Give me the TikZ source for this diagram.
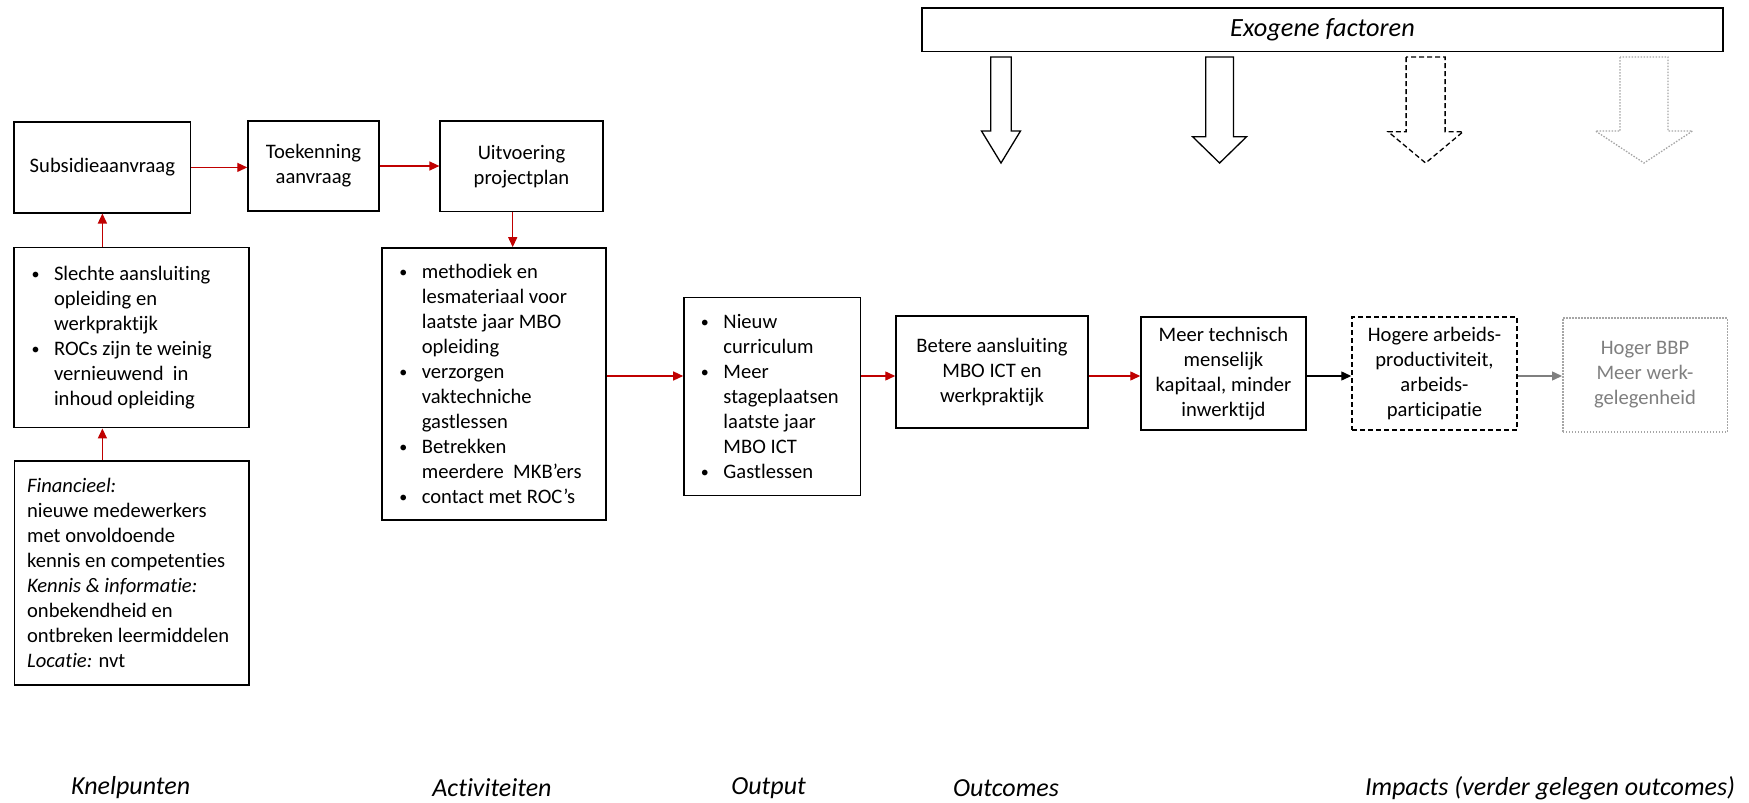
\documentclass[tikz,border=0pt]{standalone}
\usepackage{fontspec}
\setmainfont{Carlito}[Ligatures={TeX,NoCommon}]
\usepackage{tikz}
\usetikzlibrary{arrows.meta,positioning,calc}
\definecolor{FlowRed}{HTML}{C00000}
\definecolor{ImpactGray}{HTML}{7F7F7F}
\definecolor{DotGray}{HTML}{A6A6A6}
\newcommand{\bitem}{\makebox[22.5pt][l]{\raisebox{1pt}{\fontsize{16}{16}\selectfont\textbullet}}}
\newcommand{\bcont}{\hspace*{22.5pt}}

\begin{document}
\begin{tikzpicture}[
  x=1pt,
  y=-1pt,
  font=\fontsize{20.6}{25}\selectfont,
  box/.style={draw, line width=1.5pt, align=flush center, inner sep=0pt},
  listbox/.style={draw, line width=1.5pt, align=flush left, inner ysep=0pt},
  redarrow/.style={-{Triangle[length=10pt,width=9pt]}, line width=1.4pt, FlowRed},
  blackarrow/.style={-{Triangle[length=10pt,width=9pt]}, line width=1.4pt, black},
  grayarrow/.style={-{Triangle[length=10pt,width=9pt]}, line width=1.4pt, ImpactGray},
  blocksolid/.style={draw, line width=1.3pt},
  blockdash/.style={draw, line width=1.3pt, dash pattern=on 5pt off 3pt},
  blockdot/.style={draw=DotGray, line width=1.3pt, dash pattern=on 1.5pt off 1.5pt},
  phase/.style={font=\fontsize{26}{30}\selectfont\itshape}
]
\useasboundingbox (0,0) rectangle (1749,803);

\node[box, minimum width=176.4pt, minimum height=90.7pt] (sub) at (102.4,167.4) {Subsidieaanvraag};
\node[box, minimum width=131pt, minimum height=90pt] (toek) at (313.5,166) {Toekenning\\aanvraag};
\node[box, minimum width=162.7pt, minimum height=90.7pt] (uitv) at (521.5,166.3) {Uitvoering\\projectplan};

\node[listbox, inner xsep=17.5pt, text width=200pt, minimum height=180pt] (knel1) at (131.5,337.7) {%
\bitem Slechte aansluiting\\ \bcont opleiding en\\ \bcont werkpraktijk\\
\bitem ROCs zijn te weinig\\ \bcont vernieuwend\ \ in\\ \bcont inhoud opleiding};
\node[listbox, inner xsep=12.5pt, text width=209.4pt, minimum height=224.3pt] (knel2) at (131.8,572.9) {%
\textit{Financieel:}\\ nieuwe medewerkers\\ met onvoldoende\\ kennis en competenties\\
\textit{Kennis \& informatie:}\\ onbekendheid en\\ ontbreken leermiddelen\\ \textit{Locatie:} nvt};

\node[listbox, inner xsep=17.5pt, text width=189pt, minimum height=272pt] (activ) at (493.8,383.9) {%
\bitem methodiek en\\ \bcont lesmateriaal voor\\ \bcont laatste jaar MBO\\ \bcont opleiding\\
\bitem verzorgen\\ \bcont vaktechniche\\ \bcont gastlessen\\
\bitem Betrekken\\ \bcont meerdere\ \ MKB’ers\\
\bitem contact met ROC’s};

\node[listbox, inner xsep=17pt, text width=142.7pt, minimum height=198pt] (outp) at (772.3,396.7) {%
\bitem Nieuw\\ \bcont curriculum\\
\bitem Meer\\ \bcont stageplaatsen\\ \bcont laatste jaar\\ \bcont MBO ICT\\
\bitem Gastlessen};

\node[box, minimum width=192pt, minimum height=112pt] (beter) at (992,372) {Betere aansluiting\\MBO ICT en\\werkpraktijk};
\node[box, minimum width=165pt, minimum height=113pt] (meer) at (1223.5,373.5) {Meer technisch\\menselijk\\kapitaal, minder\\inwerktijd};
\node[box, dash pattern=on 5pt off 3pt, minimum width=165pt, minimum height=113pt] (hoger) at (1434.5,373.5) {Hogere arbeids-\\productiviteit,\\arbeids-\\participatie};
\node[box, draw=DotGray, text=ImpactGray, dash pattern=on 1.5pt off 1.5pt, minimum width=164.5pt, minimum height=114pt] (bbp) at (1645,375) {Hoger BBP\\Meer werk-\\gelegenheid};

\node[box, minimum width=801pt, minimum height=43.7pt, font=\fontsize{26.3}{30}\selectfont\itshape] (exo) at (1322.5,29.8) {Exogene factoren};

\foreach \cx/\sw/\hw/\hs/\sty in {1001/20.5/39/131/blocksolid, 1219.6/27.7/54/136.7/blocksolid, 1425.6/39/75/131.7/blockdash, 1644/48/97/131/blockdot}
  \draw[\sty] (\cx-\sw/2,57) -- (\cx-\sw/2,\hs) -- (\cx-\hw/2,\hs) -- (\cx,163) -- (\cx+\hw/2,\hs) -- (\cx+\sw/2,\hs) -- (\cx+\sw/2,57) -- cycle;

\coordinate (mid) at (0,376);
\draw[redarrow] (sub.east) -- (sub.east -| toek.west);
\draw[redarrow] (toek.east) -- (toek.east -| uitv.west);
\draw[redarrow] ([xshift=-8.8pt]uitv.south) -- ([xshift=-8.8pt]uitv.south |- activ.north);
\draw[redarrow] (sub.south |- knel1.north) -- (sub.south);
\draw[redarrow] (sub.south |- knel2.north) -- (sub.south |- knel1.south);
\draw[redarrow] (activ.east |- mid) -- (outp.west |- mid);
\draw[redarrow] (outp.east |- mid) -- (beter.west |- mid);
\draw[redarrow] (beter.east |- mid) -- (meer.west |- mid);
\draw[blackarrow] (meer.east |- mid) -- (hoger.west |- mid);
\draw[grayarrow] (hoger.east |- mid) -- (bbp.west |- mid);

\foreach \lx/\lab [count=\i] in {130.6/Knelpunten, 492/Activiteiten, 768.6/Output, 1006/Outcomes, 1550/{Impacts (verder gelegen outcomes)}}
  \node[phase] (phase\i) at (\lx,788) {\lab};
\end{tikzpicture}
\end{document}
